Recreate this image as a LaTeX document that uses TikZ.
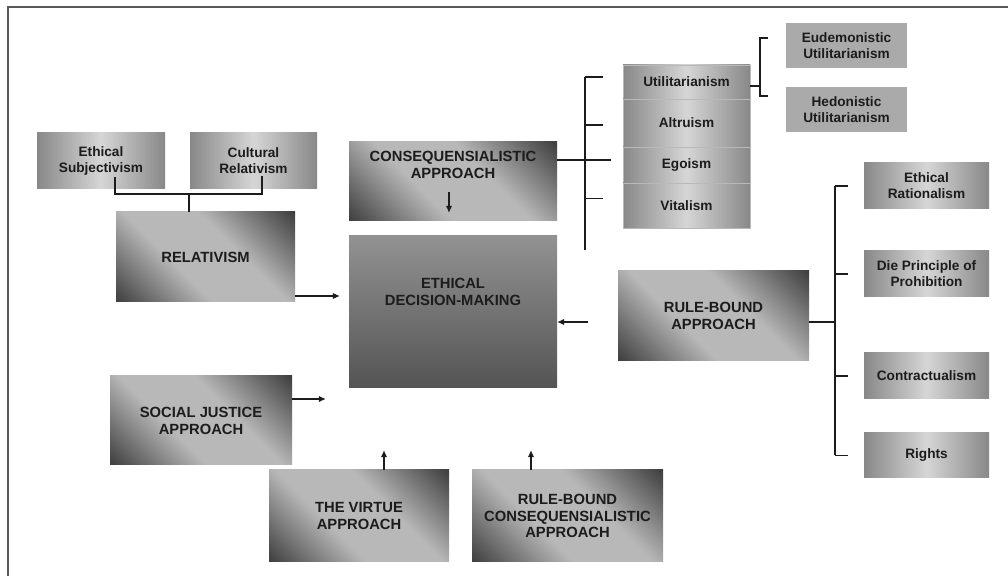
\documentclass[tikz,border=0pt]{standalone}
\usepackage{fontspec}
\setmainfont{Liberation Sans}
\usepackage{tikz}
\definecolor{rahmengrau}{RGB}{90,90,90}
\definecolor{schrift}{RGB}{28,28,28}
\definecolor{dunkel}{RGB}{64,64,64}
\definecolor{hell}{RGB}{184,184,184}
\definecolor{seite}{RGB}{136,136,136}
\definecolor{mitte}{RGB}{214,214,214}
\definecolor{flach}{RGB}{170,170,170}
\definecolor{edmoben}{RGB}{146,146,146}
\definecolor{edmunten}{RGB}{84,84,84}
\usetikzlibrary{arrows.meta, shapes}
\pgfdeclarehorizontalshading{diagonal}{100bp}{color(0bp)=(dunkel); color(15bp)=(dunkel); color(40bp)=(hell); color(60bp)=(hell); color(85bp)=(dunkel); color(100bp)=(dunkel)}
\pgfdeclarehorizontalshading{quer}{100bp}{color(0bp)=(seite); color(25bp)=(seite); color(50bp)=(mitte); color(75bp)=(seite); color(100bp)=(seite)}
\tikzstyle{linie} = [draw, line width=1.3pt, schrift]
\tikzstyle{pfeil} = [linie, ->]

\begin{document}
\begin{tikzpicture}[x=0.025cm, y=-0.025cm,
			>={Latex[length=5pt,width=4.5pt]},   %Pfeilspitzen
			kasten/.style 2 args={minimum width=#1*0.025cm, minimum height=#2*0.025cm, inner sep=0pt, outer sep=0pt, align=center, text=schrift},
			titel/.style={font=\fontsize{10.5}{12}\selectfont\bfseries, text=schrift, align=center},
			gross/.style={titel, shading=diagonal, shading angle=45},
			kleinschrift/.style={font=\fontsize{9.7}{11.5}\selectfont\bfseries},
			klein/.style={kleinschrift, shading=quer},
			stapel/.style={klein, draw=gray!55, line width=0.5pt}]
			\useasboundingbox (0,0) rectangle (1008,576);
			% Rahmen
			\draw[rahmengrau, line width=1.5pt] (8,576) -- (8,7) -- (1008,7);
			% linke Seite
			\node[kasten={128}{56}, klein] (subj) at (101,161) {Ethical\\Subjectivism};
			\node[kasten={127}{56}, klein] (kult) at (253.5,161) {Cultural\\Relativism};
			\node[kasten={179}{90}, gross] (rel) at (205.5,257) {RELATIVISM};
			\node[kasten={182}{89}, gross] (sozial) at (201,420.5) {SOCIAL JUSTICE\\APPROACH};
			% Mitte
			\node[kasten={208}{79}, shading=diagonal, shading angle=45, label={[titel, yshift=0.425cm]center:{CONSEQUENSIALISTIC\\APPROACH}}] (kons) at (453,181.5) {};
			\node[kasten={208}{152}, top color=edmoben, bottom color=edmunten, label={[titel, yshift=0.5cm]center:{ETHICAL\\DECISION-MAKING}}] (edm) at (453,312) {};
			\node[kasten={180}{92}, gross] (tugend) at (359,516) {THE VIRTUE\\APPROACH};
			\node[kasten={191}{92}, gross] (regelkons) at (567.5,516) {RULE-BOUND\\CONSEQUENSIALISTIC\\APPROACH};
			% Folgen-Stapel
			\node[kasten={127}{34}, stapel] (util) at (686.5,82) {Utilitarianism};
			\node[kasten={127}{48}, stapel] (altr) at (686.5,123) {Altruism};
			\node[kasten={127}{36}, stapel] (ego) at (686.5,165) {Egoism};
			\node[kasten={127}{45}, stapel] (vital) at (686.5,205.5) {Vitalism};
			\node[kasten={121}{45}, kleinschrift, fill=flach] (eudem) at (846.5,45.5) {Eudemonistic\\Utilitarianism};
			\node[kasten={121}{45}, kleinschrift, fill=flach] (hedon) at (846.5,109.5) {Hedonistic\\Utilitarianism};
			% rechte Seite
			\node[kasten={191}{90}, gross] (regel) at (713.5,316) {RULE-BOUND\\APPROACH};
			\node[kasten={125}{46}, klein] (rational) at (926.5,186) {Ethical\\Rationalism};
			\node[kasten={125}{46}, klein] (verbot) at (926.5,274) {Die Principle of\\Prohibition};
			\node[kasten={125}{46}, klein] (vertrag) at (926.5,376) {Contractualism};
			\node[kasten={125}{45}, klein] (rechte) at (926.5,455.5) {Rights};
			% Verbindungen links
			\coordinate (balken) at (189,194);
			\draw[linie] ([shift={(14,-12)}]subj.south) |- (balken) -| ([shift={(8.5,-13)}]kult.south);
			\draw[linie] (balken) -- (balken |- rel.north);
			\draw[pfeil] (rel.east |- 0,296) -- ++(45,0);
			\draw[pfeil] (sozial.east |- 0,399) -- ++(34,0);
			% Pfeile zur Mitte
			\draw[pfeil] ([shift={(-4,-29)}]kons.south) -- ([shift={(-4,-8)}]kons.south);
			\draw[pfeil] ([shift={(-30,6)}]regel.west) -- (edm.east |- 0,322);
			\draw[pfeil] ([xshift=0.625cm]tugend.north) -- ++(0,-20);
			\draw[pfeil] ([xshift=-0.9125cm]regelkons.north) -- ++(0,-20);
			% Stamm der Folgen
			\draw[linie] (kons.east |- 0,160) -- ++(54,0);
			\draw[linie] (util.west) ++(-38,-5) -- ++(0,173);
			\foreach \n/\dy in {util/-5, altr/2, vital/-7}
				\draw[linie] (\n.west) ++(-38,\dy) -- ++(18,0);
			% Klammer Utilitarismus
			\draw[linie, line width=1.1pt] (util.east) ++(0,4) -- ++(10,0);
			\draw[linie, line width=1.1pt] ([shift={(-18,-7.5)}]eudem.west) -- ++(-8,0) |- ([shift={(-18,-13.5)}]hedon.west);
			% Baum rechts
			\draw[linie] (regel.east) ++(0,6) -- ++(26,0);
			\draw[linie] ([xshift=-0.725cm]rational.west) -- ([xshift=-0.725cm]rechte.west);
			\foreach \n in {rational, verbot, vertrag, rechte}
				\draw[linie] ([xshift=-0.725cm]\n.west) -- ([xshift=-0.4cm]\n.west);
		\end{tikzpicture}
\end{document}
